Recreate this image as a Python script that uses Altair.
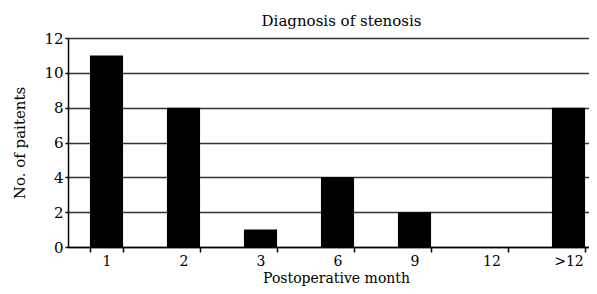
import altair as alt
import pandas as pd

months = ["1", "2", "3", "6", "9", "12", ">12"]
patients = [11, 8, 1, 4, 2, 0, 8]

df = pd.DataFrame({"month": months, "patients": patients})

font = "DejaVu Serif"

chart = alt.Chart(df).mark_bar(color="black").encode(
    x=alt.X("month:N", sort=months,
            scale=alt.Scale(paddingInner=0.57, paddingOuter=0.285, range=[0, 539]),
            axis=alt.Axis(title="Postoperative month", labelAngle=0,
                          tickBand="extent", tickSize=5, tickColor="black",
                          tickWidth=1.5, domainColor="black", domainWidth=1.5,
                          labelFontSize=14, labelPadding=2, titleFontSize=14,
                          titleFontWeight="normal", titlePadding=3, titleX=268,
                          labelColor="black", titleColor="black")),
    y=alt.Y("patients:Q", scale=alt.Scale(domain=[0, 12]),
            axis=alt.Axis(title="No. of paitents", values=[0, 2, 4, 6, 8, 10, 12],
                          grid=True, gridColor="#333333", gridWidth=1.5,
                          tickSize=3, tickColor="black", tickWidth=1.5,
                          domainColor="black", domainWidth=1.5,
                          labelFontSize=15, labelPadding=2, titleFontSize=15,
                          titleFontWeight="normal", titlePadding=16,
                          labelColor="black", titleColor="black")),
).properties(
    width=521, height=209,
    title=alt.TitleParams("Diagnosis of stenosis", fontSize=15, fontWeight="normal",
                          font=font, color="black", offset=2, dx=13),
    autosize=alt.AutoSizeParams(type="none"),
    padding={"left": 60, "top": 30, "right": 0, "bottom": 39},
).configure(font=font).configure_view(stroke=None).configure_axis(
    labelFont=font, titleFont=font
)

chart.save("out.html", embed_options={"renderer": "svg", "actions": False})
